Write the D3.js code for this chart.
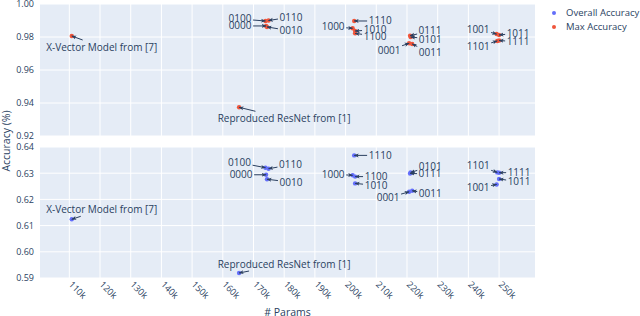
<!DOCTYPE html>
<html><head><meta charset="utf-8">
<script src="https://cdn.jsdelivr.net/npm/d3@7"></script>
<style>body{margin:0;background:#fff}svg{display:block}text{font-family:"Open Sans",sans-serif;fill:#2a3f5f}</style>
</head><body><svg id="c" width="640" height="316"></svg>
<script>
// ---- data ----
const models = ["0000","0001","0010","0011","0100","0101","0110","0111","1000","1001","1010","1011","1100","1101","1110","1111","X-Vector Model from [7]","Reproduced ResNet from [1]"];
const paramsK = [174.1,220.7,174.4,221.7,173.9,221.2,174.9,221.0,202.3,249.2,203.1,250.0,203.1,249.4,202.8,250.0,110.8,165.3];
const maxAcc = [0.9867,0.9762,0.9861,0.9758,0.9897,0.9800,0.9900,0.9808,0.9853,0.9818,0.9836,0.9812,0.9822,0.9776,0.9897,0.9779,0.9806,0.9374];
const overallAcc = [0.6294,0.6229,0.6277,0.6233,0.6321,0.6303,0.6317,0.6299,0.6292,0.6257,0.6261,0.6278,0.6287,0.6303,0.6368,0.6302,0.6124,0.5919];
const xTicks = [110,120,130,140,150,160,170,180,190,200,210,220,230,240,250];
const yTicksTop = [0.92,0.94,0.96,0.98,1.00];
const yTicksBot = [0.59,0.60,0.61,0.62,0.63,0.64];
const seriesNames = ["Overall Accuracy","Max Accuracy"];
// label offsets (layout, px) for annotations, same order as models
const offTop = [[-26,0],[-20,7],[24,4],[18,9],[-25.5,-2],[19.5,2],[22.5,-3.5],[20,-4.7],[-19.5,-1.3],[-18.5,-5],[20,-1.5],[19,-2],[20,2.7],[-19,6],[26,0],[19,1.5],[30,11],[45,11]];
const offBot = [[-25,0],[-21,6],[24,3],[18,3],[-26,-5],[19.5,-6],[22,-4],[20,0.5],[-19.5,-1],[-18.5,3.5],[21,2],[20,3],[21,0],[-19,-6.5],[26,0],[20,0],[30,-10],[45,-9]];

const colors = {"Overall Accuracy":"#636efa","Max Accuracy":"#EF553B"};
const ink = "#2a3f5f";
const svg = d3.select("#c");
const L=40,R=535;
const x = d3.scaleLinear().domain([100.45,261.7]).range([L,R]);
const yTop = d3.scaleLinear().domain([0.92,1.00]).range([136,4]);
const yBot = d3.scaleLinear().domain([0.59,0.64]).range([278,147]);

const defs = svg.append("defs");
defs.append("marker").attr("id","ah").attr("viewBox","0 0 10 10").attr("refX",9).attr("refY",5)
  .attr("markerWidth",5).attr("markerHeight",5).attr("orient","auto").attr("markerUnits","userSpaceOnUse")
  .append("path").attr("d","M0,1 L10,5 L0,9 L2.5,5 Z").attr("fill",ink);

function panel(y, ticks, vals, offs, color, fmt){
  const [y0,y1] = y.range();
  svg.append("rect").attr("x",L).attr("y",y1).attr("width",R-L).attr("height",y0-y1).attr("fill","#E5ECF6");
  const g = svg.append("g");
  g.selectAll(".vg").data(xTicks).join("line").attr("x1",d=>x(d)).attr("x2",d=>x(d)).attr("y1",y1).attr("y2",y0)
    .attr("stroke","#fff").attr("stroke-width",1);
  g.selectAll(".hg").data(ticks).join("line").attr("x1",L).attr("x2",R).attr("y1",d=>y(d)).attr("y2",d=>y(d))
    .attr("stroke","#fff").attr("stroke-width",1);
  const ax = d3.axisLeft(y).tickValues(ticks).tickFormat(fmt).tickSize(0).tickPadding(6);
  const ag = svg.append("g").attr("transform",`translate(${L},0)`).call(ax);
  ag.select(".domain").remove();
  ag.selectAll("text").attr("font-size",9).attr("fill",ink).style("font-family","'Open Sans',sans-serif");
  // points
  svg.append("g").selectAll("circle").data(models).join("circle")
    .attr("cx",(d,i)=>x(paramsK[i])).attr("cy",(d,i)=>y(vals[i])).attr("r",2.2).attr("fill",color);
  // annotations
  const an = svg.append("g");
  models.forEach((m,i)=>{
    const px=x(paramsK[i]), py=y(vals[i]);
    const cx=px+offs[i][0], cy=py+offs[i][1];
    const t = an.append("text").attr("x",cx).attr("y",cy).attr("dy","0.35em").attr("text-anchor","middle")
      .attr("font-size",10).text(m);
    const bb = t.node().getBBox();
    const hw = bb.width/2+1.5, hh = bb.height/2;
    const dx = px-cx, dy = py-cy;
    let s = Math.min(Math.abs(dx)>0?hw/Math.abs(dx):Infinity, Math.abs(dy)>0?hh/Math.abs(dy):Infinity);
    if(s<1){
      an.append("line").attr("x1",cx+dx*s).attr("y1",cy+dy*s).attr("x2",px).attr("y2",py)
        .attr("stroke",ink).attr("stroke-width",1).attr("marker-end","url(#ah)");
    }
  });
}
panel(yTop, yTicksTop, maxAcc, offTop, colors["Max Accuracy"], d3.format(".2f"));
panel(yBot, yTicksBot, overallAcc, offBot, colors["Overall Accuracy"], d3.format(".2f"));

// x tick labels
svg.append("g").selectAll("text").data(xTicks).join("text")
  .attr("transform",d=>`translate(${x(d)-1},${285}) rotate(45)`).attr("font-size",9).text(d=>d+"k");

// axis titles
svg.append("text").attr("transform",`translate(10,${141}) rotate(-90)`).attr("text-anchor","middle").attr("font-size",10.5).text("Accuracy (%)");
svg.append("text").attr("x",(L+R)/2).attr("y",316).attr("text-anchor","middle").attr("font-size",10.5).text("# Params");

// legend
const lg = svg.append("g");
seriesNames.forEach((s,i)=>{
  lg.append("circle").attr("cx",554).attr("cy",13+i*14).attr("r",2).attr("fill",colors[s]);
  lg.append("text").attr("x",566).attr("y",13+i*14).attr("dy","0.35em").attr("font-size",9.5).text(s);
});
</script></body></html>
